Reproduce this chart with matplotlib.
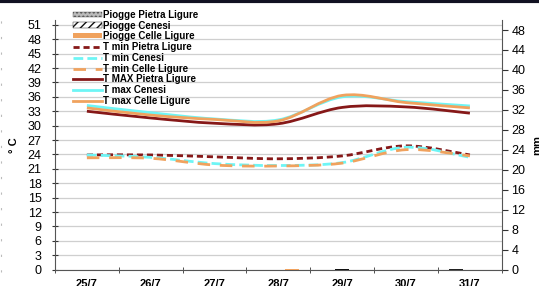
import numpy as np
import matplotlib.pyplot as plt
from matplotlib.path import Path
from matplotlib.patches import PathPatch, Patch
from matplotlib.lines import Line2D

plt.rcParams['font.family'] = ['Liberation Sans', 'DejaVu Sans']

## data
days = ["25/7", "26/7", "27/7", "28/7", "29/7", "30/7", "31/7"]
rain_pietra = [0, 0, 0, 0, 0, 0, 0.2]
rain_cenesi = [0, 0, 0, 0, 0.2, 0, 0]
rain_celle = [0, 0, 0, 0.2, 0, 0, 0]
tmin_pietra = [23.9, 23.9, 23.5, 23.1, 23.7, 25.8, 23.9]
tmin_cenesi = [23.9, 23.4, 22.1, 21.7, 22.3, 25.5, 23.4]
tmin_celle = [23.3, 23.2, 21.8, 21.6, 22.2, 25.0, 23.7]
tmax_pietra = [33.0, 31.6, 30.5, 30.4, 33.8, 33.9, 32.6]
tmax_cenesi = [34.2, 32.7, 31.4, 31.2, 36.0, 35.0, 34.1]
tmax_celle = [33.7, 32.2, 31.3, 31.0, 36.3, 34.8, 33.7]

DRED = "#861818"
CYAN = "#6ef5f5"
ORNG = "#f0a25e"


def smooth_path(x, y, t=1.0):
    # excel-like smoothed line drawn as cubic bezier segments
    pts = np.column_stack([x, y]).astype(float)
    n = len(pts)
    verts = [pts[0]]
    codes = [Path.MOVETO]
    for i in range(n - 1):
        p0 = pts[i - 1] if i > 0 else pts[i]
        p1 = pts[i]
        p2 = pts[i + 1]
        p3 = pts[i + 2] if i + 2 < n else pts[i + 1]
        c1 = p1 + (p2 - p0) / 6 * t
        c2 = p2 - (p3 - p1) / 6 * t
        verts += [c1, c2, p2]
        codes += [Path.CURVE4] * 3
    return Path(verts, codes)


fig = plt.figure(figsize=(5.39, 2.86), dpi=100)
ax = fig.add_axes([0.102, 0.057, 0.829, 0.873])
ax2 = ax.twinx()

x = np.arange(len(days))

lines = [
    (tmin_pietra, DRED, (0, (2.2, 1.4))),
    (tmin_cenesi, CYAN, (0, (3.5, 1.5))),
    (tmin_celle, ORNG, (0, (4.5, 3.5))),
    (tmax_pietra, DRED, "-"),
    (tmax_cenesi, CYAN, "-"),
    (tmax_celle, ORNG, "-"),
]
for vals, col, ls in lines:
    ax.add_patch(PathPatch(smooth_path(x, vals), fill=False, edgecolor=col,
                           lw=2.0, linestyle=ls, capstyle="butt"))

ax.set_xlim(-0.5, 6.5)
ax.set_ylim(0, 52)
ax.set_yticks(np.arange(0, 52, 3))
ax.set_xticks(x)
ax.set_xticklabels(days, fontsize=8, fontweight="bold")
ax.set_xticks(np.arange(-0.5, 7, 1), minor=True)
ax.tick_params(axis="x", which="major", length=0, pad=7)
ax.tick_params(axis="x", which="minor", length=4, direction="inout", color="#333333")
ax.tick_params(axis="y", labelsize=9, length=5, direction="inout", color="#333333", pad=7)
ax.grid(axis="y", color="#cfcfcf", lw=0.9)
ax.set_axisbelow(True)
for s in ["top", "right"]:
    ax.spines[s].set_visible(False)
ax.spines["left"].set_color("#555555")
ax.spines["bottom"].set_color("#555555")
ax.set_ylabel("° C", fontsize=8, fontweight="bold", labelpad=6)

w = 0.22
ax2.bar(x - w, rain_pietra, w, color="#222222", lw=0)
ax2.bar(x, rain_cenesi, w, color="#111111", lw=0)
ax2.bar(x + w, rain_celle, w, color=ORNG, lw=0)
ax2.set_ylim(0, 50)
ax2.set_yticks(np.arange(0, 49, 4))
ax2.tick_params(axis="y", labelsize=9, length=4, color="#333333", pad=3)
for s in ["top", "left"]:
    ax2.spines[s].set_visible(False)
ax2.spines["right"].set_color("#555555")
ax2.spines["bottom"].set_visible(False)
ax2.set_ylabel("mm", fontsize=8, fontweight="bold", labelpad=5)

handles = [
    Patch(facecolor="#bbbbbb", edgecolor="#555555", hatch="....", lw=0.3),
    Patch(facecolor="white", edgecolor="#111111", hatch="////", lw=0.3),
    Patch(facecolor=ORNG, lw=0),
    Line2D([], [], color=DRED, lw=2, ls=(0, (2.2, 1.4))),
    Line2D([], [], color=CYAN, lw=2, ls=(0, (3.5, 1.5))),
    Line2D([], [], color=ORNG, lw=2, ls=(0, (4.5, 3.5))),
    Line2D([], [], color=DRED, lw=2),
    Line2D([], [], color=CYAN, lw=2),
    Line2D([], [], color=ORNG, lw=2),
]
labels = ["Piogge Pietra Ligure", "Piogge Cenesi", "Piogge Celle Ligure",
          "T min Pietra Ligure", "T min Cenesi", "T min Celle Ligure",
          "T MAX Pietra Ligure", "T max Cenesi", "T max Celle Ligure"]
fig.legend(handles, labels, loc="upper left", bbox_to_anchor=(0.135, 0.966),
           frameon=False, prop={"size": 7, "weight": "bold"},
           handlelength=3.0, handleheight=0.45, handletextpad=0.15,
           labelspacing=0.08, borderpad=0, borderaxespad=0)

# thick border at top of the cropped picture
fig.add_artist(Line2D([0, 1], [0.995, 0.995], transform=fig.transFigure,
                      color="#111122", lw=3))
fig.add_artist(Line2D([0.002, 0.002], [0.05, 0.97], transform=fig.transFigure,
                      color="#bbbbbb", lw=0.8, ls=(0, (2, 12))))

fig.savefig("out.png", dpi=100)
